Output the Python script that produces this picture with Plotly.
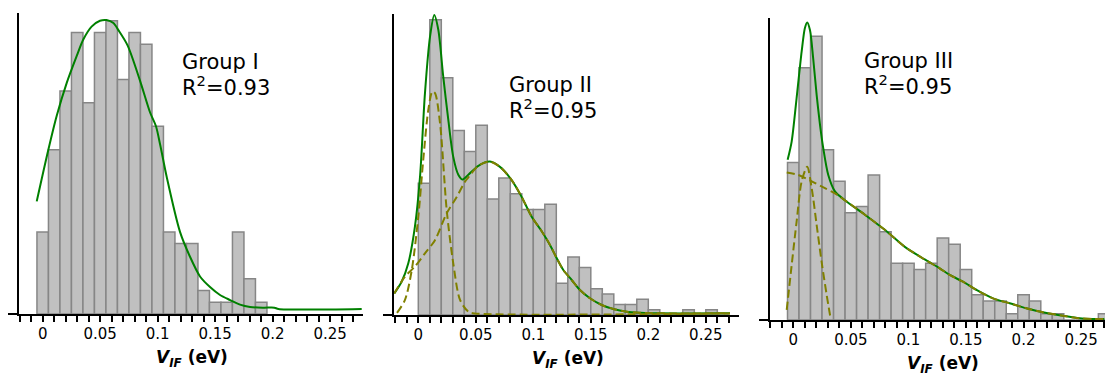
import plotly.graph_objects as go

# ---------------- data ----------------
tick_vals = [0, 0.05, 0.1, 0.15, 0.2, 0.25]
tick_text = ["0", "0.05", "0.1", "0.15", "0.2", "0.25"]

# Group I histogram (bin centres, counts)
g1_centers = [0.00, 0.01, 0.02, 0.03, 0.04, 0.05, 0.06, 0.07, 0.08, 0.09,
              0.10, 0.11, 0.12, 0.13, 0.14, 0.15, 0.16, 0.17, 0.18, 0.19]
g1_counts = [7, 14, 19, 24, 18, 24, 25, 20, 24, 23, 16, 7, 6, 6, 2, 1, 1, 7, 3, 1]
g1_fit_x = [-0.0052, 0.0049, 0.0122, 0.0209, 0.0296, 0.0353, 0.0425, 0.0498, 0.0555,
            0.0615, 0.0658, 0.0738, 0.0846, 0.0933, 0.0985, 0.1022, 0.1078, 0.1194,
            0.128, 0.1368, 0.1455, 0.1542, 0.163, 0.1716, 0.1803, 0.192, 0.2015,
            0.205, 0.2774]
g1_fit_y = [9.6, 14.0, 16.9, 19.7, 22.0, 23.4, 24.5, 25.0, 25.06,
            24.8, 24.2, 22.9, 19.9, 17.2, 16.0, 14.4, 11.7, 7.0,
            4.9, 3.2, 2.3, 1.62, 1.19, 0.8, 0.6, 0.54, 0.54,
            0.43, 0.43]

# Group II histogram
g2_centers = [0.005, 0.015, 0.025, 0.035, 0.045, 0.055, 0.065, 0.075, 0.085, 0.095,
              0.105, 0.115, 0.125, 0.135, 0.145, 0.155, 0.165, 0.175, 0.185, 0.195,
              0.205, 0.215, 0.225, 0.235, 0.245, 0.255, 0.265]
g2_counts = [25, 56, 45, 35, 31, 36, 22, 26, 23, 20, 20, 21, 6, 11, 9, 5, 4, 2, 2, 3,
             1, 0, 0, 1, 0, 1, 0]
g2_fit_x = [-0.0209, -0.0145, -0.0087, -0.0029, 0.0015, 0.0058, 0.0102, 0.0139, 0.0174,
            0.0217, 0.0261, 0.0304, 0.0348, 0.0383, 0.0435, 0.0522, 0.0623, 0.071,
            0.0812, 0.0899, 0.0986, 0.1073, 0.1145, 0.1203, 0.1261, 0.1334, 0.1406,
            0.1493, 0.1595, 0.1696, 0.1812, 0.1928, 0.21, 0.271]
g2_fit_y = [4.1, 6.3, 9.8, 16.8, 26.2, 42.1, 52.8, 56.9, 54.1,
            45.2, 37.0, 30.0, 26.6, 25.7, 26.6, 28.3, 29.1, 28.1,
            25.6, 22.4, 18.65, 15.9, 13.3, 10.8, 8.54, 6.64, 4.74,
            3.17, 1.9, 1.14, 0.63, 0.44, 0.32, 0.32]
g2_broad_x = [-0.0209, -0.0116, -0.0029, 0.0058, 0.0145, 0.0247, 0.0334, 0.0406, 0.0435,
              0.0522, 0.0623, 0.071, 0.0812, 0.0899, 0.0986, 0.1073, 0.1145, 0.1203,
              0.1261, 0.1334, 0.1406, 0.1493, 0.1595, 0.1696, 0.1812, 0.1928, 0.21, 0.271]
g2_broad_y = [4.1, 7.27, 9.2, 11.7, 14.2, 19.3, 22.4, 25.3, 26.1,
              28.3, 29.1, 28.1, 25.6, 22.4, 18.65, 15.9, 13.3, 10.8,
              8.54, 6.64, 4.74, 3.17, 1.9, 1.14, 0.63, 0.44, 0.32, 0.32]
g2_narrow_x = [-0.0185, -0.0116, -0.0057, 0.0, 0.0043, 0.0087, 0.0122, 0.0145, 0.0189,
               0.0247, 0.0304, 0.0363, 0.0435, 0.049, 0.271]
g2_narrow_y = [0.4, 2.85, 8.5, 18.65, 29.4, 38.9, 42.4, 42.1, 36.4,
               19.9, 9.8, 2.85, 0.63, 0.3, 0.3]

# Group III histogram
g3_centers = [0.00, 0.01, 0.02, 0.03, 0.04, 0.05, 0.06, 0.07, 0.08, 0.09,
              0.10, 0.11, 0.12, 0.13, 0.14, 0.15, 0.16, 0.17, 0.18, 0.19,
              0.20, 0.21, 0.22, 0.23, 0.24, 0.25, 0.26, 0.27]
g3_counts = [25, 40, 45, 27, 22, 17, 18, 23, 14, 9, 9, 8, 9, 13, 12, 8, 4, 3, 3, 1,
             4, 3, 1, 1, 0, 0, 0, 1]
g3_fit_x = [-0.0049, -0.0014, 0.0029, 0.0073, 0.0101, 0.0121, 0.0145, 0.0173, 0.0203,
            0.0232, 0.026, 0.0304, 0.0362, 0.0448, 0.0622, 0.0795, 0.0969, 0.1142,
            0.1272, 0.1359, 0.1474, 0.1591, 0.1735, 0.188, 0.2024, 0.2168, 0.2342,
            0.2487, 0.26, 0.2702]
g3_fit_y = [25.4, 28.3, 35.2, 42.6, 46.3, 47.2, 46.0, 41.5, 35.7,
            31.0, 27.3, 23.0, 20.4, 19.0, 16.7, 14.3, 11.6, 9.6,
            8.2, 7.14, 6.08, 4.76, 3.44, 2.65, 1.86, 1.22, 0.68,
            0.27, 0.16, 0.16]
g3_broad_x = [-0.0057, 0.0043, 0.016, 0.0275, 0.0362, 0.0448, 0.0622, 0.0795, 0.0969,
              0.1142, 0.1272, 0.1359, 0.1474, 0.1591, 0.1735, 0.188, 0.2024, 0.2168,
              0.2342, 0.2487, 0.26, 0.2702]
g3_broad_y = [23.4, 23.0, 22.0, 20.9, 20.1, 19.0, 16.7, 14.3, 11.6,
              9.6, 8.2, 7.14, 6.08, 4.76, 3.44, 2.65, 1.86, 1.22,
              0.68, 0.27, 0.16, 0.16]
g3_narrow_x = [-0.0057, -0.0014, 0.0029, 0.0073, 0.0121, 0.016, 0.0203, 0.0246, 0.029, 0.0324]
g3_narrow_y = [1.6, 8.7, 15.6, 22.0, 24.3, 20.9, 15.1, 9.25, 4.0, 0.27]

group_labels = ["Group I", "Group II", "Group III"]
r2_labels = ["R<sup>2</sup>=0.93", "R<sup>2</sup>=0.95", "R<sup>2</sup>=0.95"]

# ---------------- figure ----------------
W, H = 1105, 374
GREEN = "#008000"
OLIVE = "#808000"
BAR_FILL = "#c0c0c0"
BAR_EDGE = "#868686"
FONT = "DejaVu Sans"

fig = go.Figure()

def px_x(p):
    return p / W

def px_y(p):
    return 1 - p / H

panels = [
    dict(centers=g1_centers, counts=g1_counts,
         curves=[(g1_fit_x, g1_fit_y, GREEN, "solid")],
         xdom=(19, 363), ydom=(314, 13), xr=(-0.02061, 0.27852), yr=(0, 25.66),
         txt=(0.1194, 21.5, 19.4)),
    dict(centers=g2_centers, counts=g2_counts,
         curves=[(g2_fit_x, g2_fit_y, GREEN, "solid"),
                 (g2_broad_x, g2_broad_y, OLIVE, "8px,4px"),
                 (g2_narrow_x, g2_narrow_y, OLIVE, "8px,4px")],
         xdom=(394, 739), ydom=(315, 14), xr=(-0.02113, 0.27887), yr=(0, 57.1),
         txt=(0.0774, 43.6, 39.0)),
    dict(centers=g3_centers, counts=g3_counts,
         curves=[(g3_fit_x, g3_fit_y, GREEN, "solid"),
                 (g3_broad_x, g3_broad_y, OLIVE, "8px,4px"),
                 (g3_narrow_x, g3_narrow_y, OLIVE, "8px,4px")],
         xdom=(770, 1105), ydom=(320, 18), xr=(-0.02021, 0.27077), yr=(0, 47.9),
         txt=(0.0593, 41.1, 37.2)),
]

for i, p in enumerate(panels):
    n = "" if i == 0 else str(i + 1)
    xa, ya = "x" + n, "y" + n
    fig.add_trace(go.Bar(x=p["centers"], y=p["counts"], width=0.01,
                         marker=dict(color=BAR_FILL, line=dict(color=BAR_EDGE, width=1.5)),
                         xaxis=xa, yaxis=ya, showlegend=False, hoverinfo="skip"))
    for cx, cy, col, dash in p["curves"]:
        fig.add_trace(go.Scatter(x=cx, y=cy, mode="lines",
                                 line=dict(color=col, width=2, dash=dash,
                                           shape="spline", smoothing=0.8),
                                 xaxis=xa, yaxis=ya, showlegend=False, hoverinfo="skip"))
    xkey = "xaxis" + n
    ykey = "yaxis" + n
    fig.update_layout(**{
        xkey: dict(domain=[px_x(p["xdom"][0]), px_x(p["xdom"][1])],
                   range=list(p["xr"]), anchor=ya,
                   showline=True, linecolor="black", linewidth=1.5,
                   showgrid=False, zeroline=False,
                   tickmode="array", tickvals=tick_vals, ticktext=tick_text,
                   ticks="outside", ticklen=6, tickwidth=1.5, tickcolor="black",
                   ticklabelstandoff=-1,
                   minor=dict(tickmode="linear", tick0=0, dtick=0.01, ticks="outside",
                              ticklen=6, tickwidth=1.5, tickcolor="black", showgrid=False),
                   tickfont=dict(family=FONT, size=15, color="black"),
                   automargin=False, fixedrange=True),
        ykey: dict(domain=[px_y(p["ydom"][0]), px_y(p["ydom"][1])],
                   range=list(p["yr"]), anchor=xa,
                   showline=True, linecolor="black", linewidth=1.5,
                   showgrid=False, zeroline=False,
                   tickmode="array", tickvals=[0], showticklabels=False,
                   ticks="outside", ticklen=9, tickwidth=1.5, tickcolor="black",
                   automargin=False, fixedrange=True),
    })
    tx, ty1, ty2 = p["txt"]
    fig.add_annotation(x=tx, y=ty1, xref=xa, yref=ya, text=group_labels[i],
                       showarrow=False, xanchor="left", yanchor="middle",
                       font=dict(family=FONT, size=21, color="black"))
    fig.add_annotation(x=tx, y=ty2, xref=xa, yref=ya, text=r2_labels[i],
                       showarrow=False, xanchor="left", yanchor="middle",
                       font=dict(family=FONT, size=21, color="black"))
    fig.add_annotation(x=0.13, y=px_y(p["ydom"][0] + 44), xref=xa, yref="paper",
                       text="<b><i>V</i><sub><i>IF</i></sub> (eV)</b>",
                       showarrow=False, xanchor="center", yanchor="middle",
                       font=dict(family=FONT, size=17, color="black"))

fig.update_layout(width=W, height=H, margin=dict(l=0, r=0, t=0, b=0),
                  paper_bgcolor="white", plot_bgcolor="white",
                  barmode="overlay", showlegend=False, hovermode=False)

fig.write_html("out.html", config={"displayModeBar": False},
               post_script="document.body.style.margin='0';document.body.style.overflow='hidden';")
